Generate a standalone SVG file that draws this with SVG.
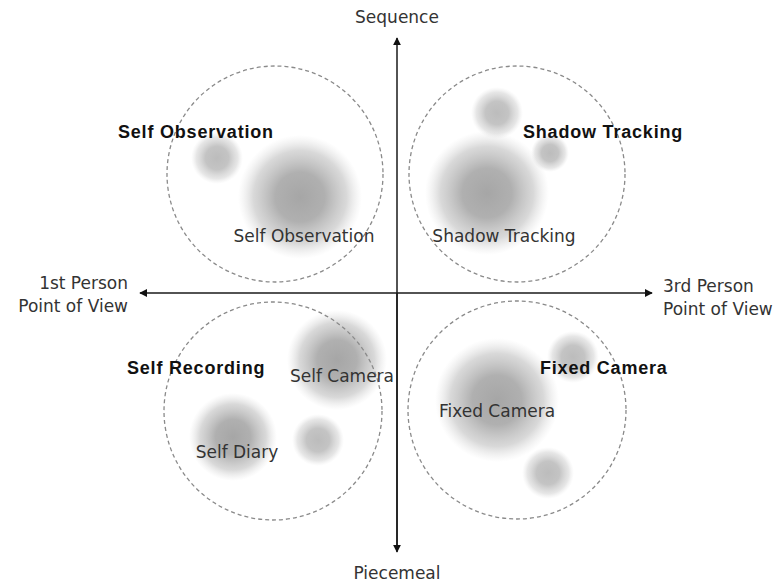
<svg xmlns="http://www.w3.org/2000/svg" width="782" height="584" viewBox="0 0 782 584">
<style>
.ring{fill:none;stroke:#8a8a8a;stroke-width:1.3;stroke-dasharray:4 3}
.axis{stroke:#1a1a1a;stroke-width:1.5;fill:none}
.t{font-family:"DejaVu Sans","Noto Sans",sans-serif;font-size:17px;fill:#333}
.b{font-family:"Liberation Sans",Arial,sans-serif;font-size:18px;font-weight:bold;fill:#111;letter-spacing:0.8px}
.blob{fill:url(#g)}
.sblob{fill:url(#gs)}
</style>
<defs>
<radialGradient id="g">
<stop offset="0" stop-color="#a6a6a6"/>
<stop offset="0.4" stop-color="#b0b0b0"/>
<stop offset="0.75" stop-color="#c8c8c8" stop-opacity="0.7"/>
<stop offset="1" stop-color="#dddddd" stop-opacity="0"/>
</radialGradient>
<radialGradient id="gs">
<stop offset="0" stop-color="#bcbcbc"/>
<stop offset="0.45" stop-color="#c4c4c4"/>
<stop offset="0.8" stop-color="#d6d6d6" stop-opacity="0.6"/>
<stop offset="1" stop-color="#e6e6e6" stop-opacity="0"/>
</radialGradient>
<marker id="ah" viewBox="0 0 10 10" refX="9" refY="5" markerWidth="8" markerHeight="8" markerUnits="userSpaceOnUse" orient="auto">
<path d="M0,0 L10,5 L0,10 z" fill="#111"/>
</marker>
</defs>
<g id="q-self-observation">
<circle class="sblob" cx="217" cy="158" r="26"/>
<circle class="blob" cx="300" cy="197" r="62"/>
<circle class="ring" cx="275" cy="174" r="108"/>
<text class="t" x="304" y="242" text-anchor="middle">Self Observation</text>
<text class="b" x="118" y="138">Self Observation</text>
</g>
<g id="q-shadow-tracking">
<circle class="sblob" cx="497" cy="113" r="26"/>
<circle class="sblob" cx="550" cy="153" r="19"/>
<circle class="blob" cx="487" cy="193" r="62"/>
<circle class="ring" cx="517" cy="174" r="108"/>
<text class="t" x="504" y="242" text-anchor="middle">Shadow Tracking</text>
<text class="b" x="523" y="138">Shadow  Tracking</text>
</g>
<g id="q-self-recording">
<circle class="blob" cx="337" cy="360" r="50"/>
<circle class="sblob" cx="318" cy="440" r="26"/>
<circle class="blob" cx="233" cy="437" r="44"/>
<circle class="ring" cx="273" cy="411" r="109"/>
<text class="t" x="342" y="382" text-anchor="middle">Self Camera</text>
<text class="t" x="237" y="458" text-anchor="middle">Self Diary</text>
<text class="b" x="127" y="374">Self  Recording</text>
</g>
<g id="q-fixed-camera">
<circle class="blob" cx="497" cy="400" r="62"/>
<circle class="sblob" cx="573" cy="357" r="26"/>
<circle class="sblob" cx="548" cy="473" r="26"/>
<circle class="ring" cx="517" cy="410" r="109"/>
<text class="t" x="497" y="417" text-anchor="middle">Fixed Camera</text>
<text class="b" x="540" y="374">Fixed  Camera</text>
</g>
<g id="connectors">
<line class="axis" x1="397" y1="548" x2="397" y2="38" marker-end="url(#ah)"/>
<line class="axis" x1="397" y1="293" x2="397" y2="552" marker-end="url(#ah)"/>
<line class="axis" x1="397" y1="293" x2="140" y2="293" marker-end="url(#ah)"/>
<line class="axis" x1="397" y1="293" x2="652" y2="293" marker-end="url(#ah)"/>
</g>
<g id="labels">
<text class="t" x="397" y="23" text-anchor="middle">Sequence</text>
<text class="t" x="397" y="579" text-anchor="middle">Piecemeal</text>
<text class="t" x="128" y="289" text-anchor="end">1st Person</text>
<text class="t" x="128" y="312" text-anchor="end">Point of View</text>
<text class="t" x="663" y="292">3rd Person</text>
<text class="t" x="663" y="315">Point of View</text>
</g>
</svg>
